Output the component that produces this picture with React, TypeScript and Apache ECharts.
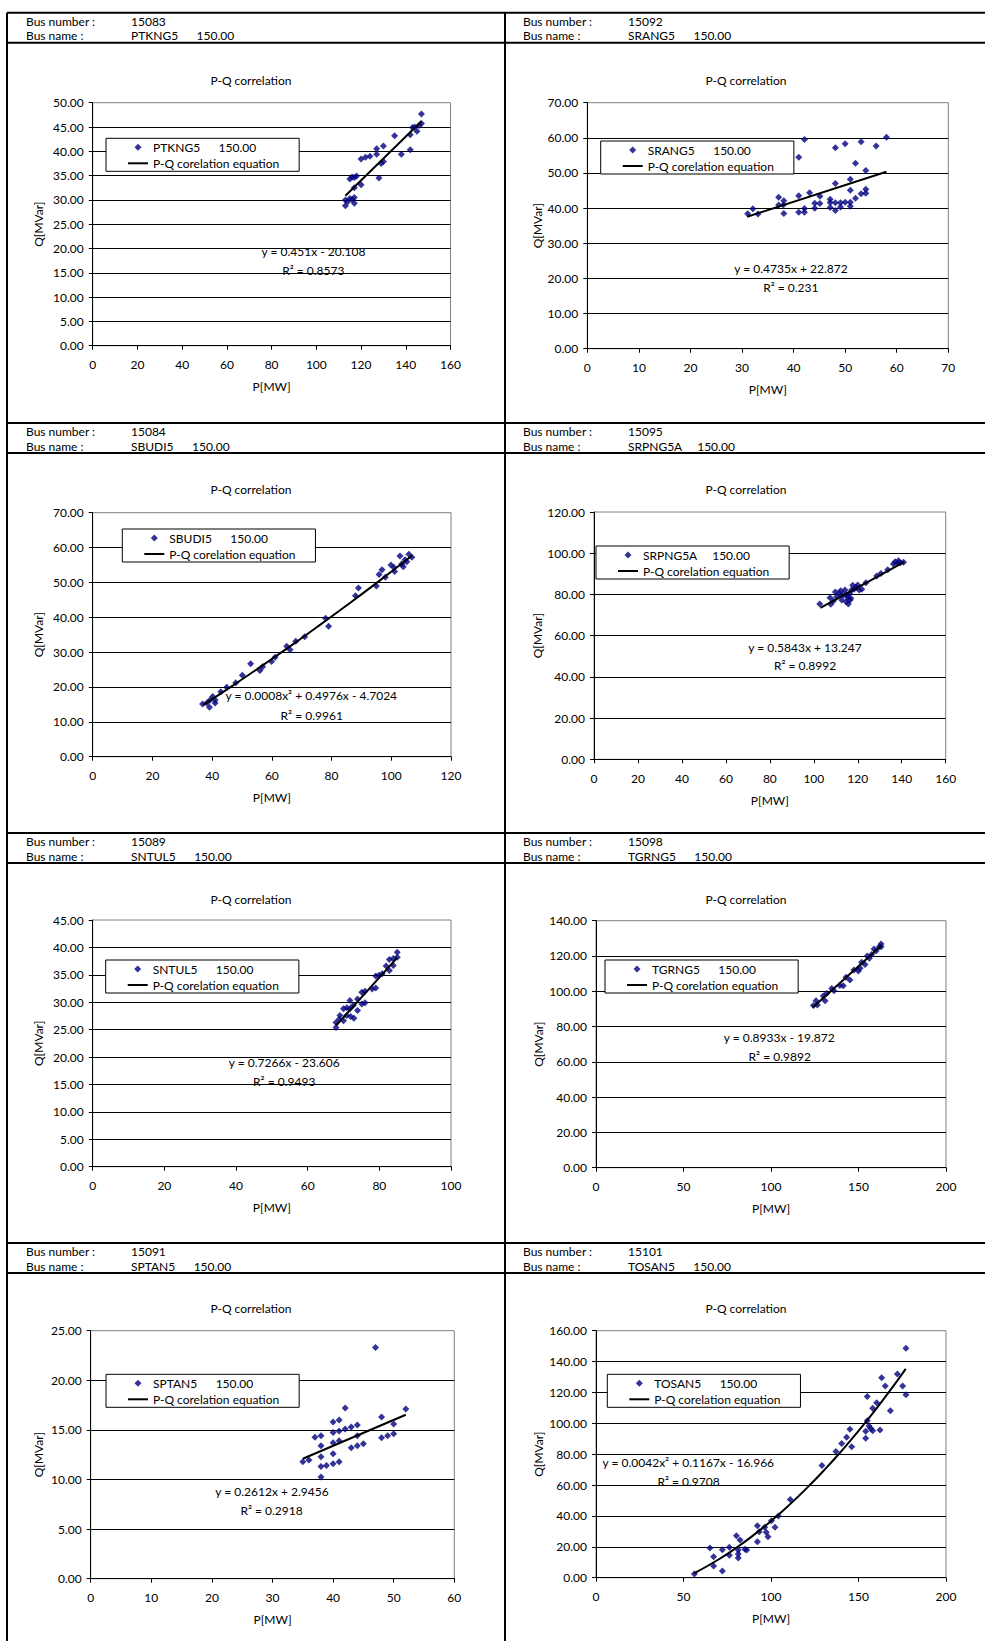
import React, { useEffect, useRef } from 'react';
import * as echarts from 'echarts';

const FONT = 'Lato';

const busNumbers = ['15083', '15092', '15084', '15095', '15089', '15098', '15091', '15101'];
const busNames = ['PTKNG5', 'SRANG5', 'SBUDI5', 'SRPNG5A', 'SNTUL5', 'TGRNG5', 'SPTAN5', 'TOSAN5'];
const busKv = '150.00';
const busNumberLabel = 'Bus number :';
const busNameLabel = 'Bus name :';
const chartTitle = 'P-Q correlation';
const trendName = 'P-Q corelation equation';
const xAxisName = 'P[MW]';
const yAxisName = 'Q[MVar]';

const xMax = [160, 70, 120, 160, 100, 200, 60, 200];
const xInterval = [20, 10, 20, 20, 20, 50, 10, 50];
const yMax = [50, 70, 70, 120, 45, 140, 25, 160];
const yInterval = [5, 10, 10, 20, 5, 20, 5, 20];

const equations = [
  'y = 0.451x - 20.108',
  'y = 0.4735x + 22.872',
  'y = 0.0008x² + 0.4976x - 4.7024',
  'y = 0.5843x + 13.247',
  'y = 0.7266x - 23.606',
  'y = 0.8933x - 19.872',
  'y = 0.2612x + 2.9456',
  'y = 0.0042x² + 0.1167x - 16.966',
];
const r2Labels = [
  'R² = 0.8573', 'R² = 0.231', 'R² = 0.9961', 'R² = 0.8992',
  'R² = 0.9493', 'R² = 0.9892', 'R² = 0.2918', 'R² = 0.9708',
];
const trendSmooth = [false, false, true, false, false, false, false, true];

const ptkng5Points = [
  [113, 28.8], [113, 30.0], [114, 29.6], [115, 30.3], [116, 30.1], [117, 30.5], [117, 29.3], [117, 32.5],
  [115, 34.3], [116, 34.7], [117, 34.6], [118, 34.9], [120, 33.1], [120, 38.4], [122, 38.8], [124, 39.0],
  [127, 39.4], [127, 40.5], [128, 34.5], [129, 37.5], [130, 37.9], [130, 41.1], [135, 43.2], [138, 39.4],
  [142, 40.3], [142, 43.4], [143, 44.9], [144, 45.0], [145, 44.1], [146, 45.3], [147, 45.7], [147, 47.7],
];
const srang5Points = [
  [31.1, 38.4], [32.1, 39.8], [33.1, 38.3], [37.1, 43.1], [37.1, 40.9], [38.1, 42.1], [38, 40.9], [38.1, 38.5],
  [41, 43.5], [41, 54.5], [42.1, 59.5], [42.1, 39.9], [42.1, 38.8], [41, 38.8], [43.1, 44.4], [44.1, 41.4],
  [44.1, 40.0], [45.1, 43.4], [45.1, 41.3], [47.1, 42.5], [47.1, 41.6], [47.1, 40.2], [48.1, 47.0], [48.1, 57.2],
  [48.1, 39.3], [48.1, 41.5], [49.1, 41.5], [49.1, 40.3], [50, 58.3], [50, 41.7], [51, 48.2], [51, 45.1],
  [51, 41.7], [51, 40.5], [52, 52.8], [52, 42.8], [53.1, 58.9], [53.1, 44.1], [54, 50.7], [54, 45.4],
  [54, 44.2], [56, 57.7], [58, 60.2],
];
const sbudi5Points = [
  [36.8, 15.1], [38.2, 15.4], [39.1, 14.2], [39.3, 16.3], [40.2, 17.3], [41, 16.3], [41, 15.4], [42.9, 18.6],
  [44.9, 19.9], [47.9, 21.2], [50.1, 23.4], [52.9, 26.7], [56, 24.7], [56.9, 25.8], [59.9, 27.3], [61.1, 28.5],
  [65, 31.7], [66.1, 30.7], [68, 33.1], [71, 34.4], [78, 39.7], [79, 37.4], [88, 46.2], [89, 48.4],
  [95, 49.0], [95.9, 52.3], [96.9, 53.6], [98, 51.5], [99.9, 55.0], [100.9, 54.3], [101.1, 53.1], [102.9, 57.6],
  [103.5, 55.3], [104, 54.5], [104.6, 56.5], [105.2, 55.9], [105.9, 58.1], [106.9, 57.2],
];
const srpng5aPoints = [
  [102.7, 75.4], [107.4, 78.4], [107.7, 75.2], [108.9, 76.8], [109.8, 81.2], [110.4, 78.9], [111.6, 80.5],
  [112.2, 81.8], [112.7, 77.3], [113.4, 79.8], [114.2, 82.2], [114.7, 76.5], [115, 79.8], [115.3, 78.6],
  [115.7, 75.4], [116.2, 80.5], [116.5, 77.3], [116.8, 78.1], [117.2, 82.2], [117.7, 84.4], [118.3, 82.5],
  [119.2, 83.5], [120, 84.6], [120.6, 82.2], [121.8, 82.5], [123.7, 85.7], [128.6, 88.9], [130.5, 90.2],
  [133.6, 92.0], [136.2, 94.8], [137, 95.9], [138, 95.1], [138.5, 96.4], [139.3, 95.4], [140.8, 95.6],
];
const sntul5Points = [
  [67.9, 25.4], [67.9, 26.3], [68.8, 26.9], [69, 27.6], [70, 28.8], [70, 26.6], [70.9, 29.0], [70.9, 27.6],
  [71.8, 30.3], [71.8, 28.8], [72, 27.4], [72.7, 29.4], [72.9, 27.1], [73.9, 28.5], [73.9, 30.6], [75.1, 29.7],
  [75.1, 31.8], [76, 32.0], [76, 29.9], [78, 32.4], [79, 32.6], [79, 34.8], [79.9, 34.9], [80.8, 35.2],
  [81.9, 36.6], [82.8, 37.8], [82.8, 35.8], [83.9, 38.0], [83.9, 36.7], [85, 39.1], [85, 38.2],
];
const tgrng5Points = [
  [124.2, 92.0], [125.7, 94.6], [126.5, 92.2], [129.9, 97.3], [130.9, 94.6], [131.8, 98.8], [134.7, 101.6],
  [136, 100.3], [139.4, 103.3], [141.3, 103.1], [142.9, 107.9], [145.1, 106.4], [147.4, 112.0], [149.9, 111.5],
  [150.9, 113.0], [151.8, 116.4], [153.7, 115.2], [155, 120.0], [156.2, 118.7], [157.5, 120.9], [158.9, 124.0],
  [160, 122.8], [161.9, 125.3], [162.9, 126.8], [162.9, 125.3],
];
const sptan5Points = [
  [35, 11.8], [36, 11.96], [37, 14.25], [38, 14.4], [38, 13.4], [38, 12.3], [38, 11.3], [38, 10.25],
  [38.9, 11.4], [40, 15.8], [40, 14.75], [40, 13.7], [40, 12.6], [40, 11.6], [41, 16.0], [41, 14.9],
  [41, 13.9], [41, 11.8], [42, 17.2], [42, 15.1], [43, 15.3], [43, 13.2], [44, 15.5], [44, 14.4],
  [44, 13.4], [45, 13.6], [47, 23.3], [48, 16.3], [48, 14.2], [49, 14.4], [50, 15.6], [50, 14.6], [52, 17.1],
];
const tosan5Points = [
  [56.2, 2.4], [65.1, 19.2], [67.2, 13.6], [67.2, 7.6], [72.2, 18.1], [72.2, 4.3], [76.2, 19.7], [76.2, 14.5],
  [80.2, 27.2], [81.3, 17.9], [81.3, 15.3], [81.3, 12.7], [82.3, 24.4], [85.1, 18.4], [86.1, 17.9], [92.2, 33.7],
  [92.2, 23.3], [93.3, 29.8], [96.4, 32.6], [97.3, 29.4], [98.3, 26.6], [100.2, 36.9], [102.3, 32.6], [104.2, 39.9],
  [111, 50.7], [129.1, 72.6], [137.1, 81.8], [140.4, 87.0], [143.2, 90.9], [145.1, 96.1], [146.1, 84.9], [154.1, 90.3],
  [154.1, 94.8], [155, 117.3], [155, 101.7], [156, 98.2], [157, 96.7], [158.1, 95.2], [158.1, 109.7], [160.4, 113.4],
  [162.3, 95.7], [163.2, 129.6], [165.3, 124.2], [168.2, 108.2], [172.2, 131.9], [175.2, 124.2], [177.1, 148.6], [177.1, 118.5],
];

const ptkng5Trend = [[113, 30.85], [147, 46.19]];
const srang5Trend = [[31, 37.55], [58, 50.33]];
const sbudi5Trend = [[37, 14.8], [45, 19.31], [55, 25.09], [65, 31.02], [75, 37.12], [85, 43.37], [95, 49.79], [107, 57.7]];
const srpng5aTrend = [[103, 73.43], [141, 95.63]];
const sntul5Trend = [[68, 25.8], [85, 38.15]];
const tgrng5Trend = [[124, 90.9], [163, 125.74]];
const sptan5Trend = [[35, 12.09], [52, 16.53]];
const tosan5Trend = [
  [56, 2.74], [70, 11.78], [80, 19.25], [90, 27.56], [100, 36.7], [110, 46.69], [120, 57.52],
  [130, 69.19], [140, 81.69], [150, 95.04], [160, 109.23], [170, 124.25], [177, 135.27],
];

const scatterData = [ptkng5Points, srang5Points, sbudi5Points, srpng5aPoints, sntul5Points, tgrng5Points, sptan5Points, tosan5Points];
const trendData = [ptkng5Trend, srang5Trend, sbudi5Trend, srpng5aTrend, sntul5Trend, tgrng5Trend, sptan5Trend, tosan5Trend];

// layout (pixels)
const panelLayout = [
  { gl: 92.7, gt: 102.7, gw: 357.8, gh: 243, title: [251, 81], eq: [313.5, 251.7], r2: [313.3, 270.3], legend: [106, 138.3], yGap: 48 },
  { gl: 587.3, gt: 102.7, gw: 361, gh: 246, title: [746, 81.7], eq: [791, 268.3], r2: [790.8, 287.3], legend: [600.7, 141], yGap: 43 },
  { gl: 92.7, gt: 512.7, gw: 358.3, gh: 244, title: [251, 490], eq: [311.3, 695], r2: [311.7, 715], legend: [122.3, 529], yGap: 48 },
  { gl: 594, gt: 512, gw: 351.7, gh: 247.3, title: [746, 490], eq: [805, 647.3], r2: [805, 665.3], legend: [596, 546], yGap: 50 },
  { gl: 92.7, gt: 920, gw: 358.3, gh: 246.7, title: [251, 900], eq: [284.2, 1062.7], r2: [284.2, 1081.7], legend: [105.7, 960], yGap: 48 },
  { gl: 596, gt: 920.7, gw: 350, gh: 247, title: [746, 900], eq: [779.2, 1037.3], r2: [779.7, 1056], legend: [605, 960], yGap: 52 },
  { gl: 90.7, gt: 1330.7, gw: 363.6, gh: 248, title: [251, 1309.5], eq: [272, 1491.7], r2: [271.5, 1510.7], legend: [106, 1374.3], yGap: 46 },
  { gl: 596, gt: 1330.7, gw: 350, gh: 247, title: [746, 1309.5], eq: [688.3, 1462.7], r2: [688.5, 1481.7], legend: [607.3, 1374.3], yGap: 52 },
];
const rowTops = [12.7, 423, 833, 1243];
const colX = [
  { border: 7, label: 26, value: 131 },
  { border: 505, label: 523, value: 628 },
];
const W = 985;
const H = 1641;

function seriesLabel(i: number) {
  return busNames[i].padEnd(12, ' ') + busKv;
}

function buildOption() {
  const grid: any[] = [];
  const xAxis: any[] = [];
  const yAxis: any[] = [];
  const series: any[] = [];
  const legend: any[] = [];
  const title: any[] = [];
  const graphic: any[] = [];
  const txt = (text: string, x: number, y: number, align = 'center') => ({
    type: 'text',
    x, y,
    silent: true,
    style: {
      text, x: 0, y: 0,
      fill: '#000',
      font: `12px ${FONT}`,
      fontFamily: FONT,
      fontSize: 12,
      align, verticalAlign: 'middle',
      textAlign: align, textVerticalAlign: 'middle',
    },
  });
  const ln = (x1: number, y1: number, x2: number, y2: number) => ({
    type: 'line', silent: true,
    shape: { x1, y1, x2, y2 },
    style: { stroke: '#000', lineWidth: 2 },
  });

  // borders
  for (const c of colX) graphic.push(ln(c.border, rowTops[0], c.border, H));
  rowTops.forEach((t) => {
    graphic.push(ln(colX[0].border, t, W, t));
    graphic.push(ln(colX[0].border, t + 30, W, t + 30));
  });

  for (let i = 0; i < 8; i++) {
    const L = panelLayout[i];
    const row = Math.floor(i / 2);
    const col = i % 2;
    const t = rowTops[row];
    const c = colX[col];
    graphic.push(txt(busNumberLabel, c.label, t + 8.5, 'left'));
    graphic.push(txt(busNumbers[i], c.value, t + 8.5, 'left'));
    graphic.push(txt(busNameLabel, c.label, t + 23, 'left'));
    graphic.push(txt(seriesLabel(i), c.value, t + 23, 'left'));
    graphic.push(txt(equations[i], L.eq[0], L.eq[1]));
    graphic.push(txt(r2Labels[i], L.r2[0], L.r2[1]));

    title.push({
      text: chartTitle,
      left: L.title[0],
      top: L.title[1] - 7,
      textAlign: 'center',
      padding: 0,
      textStyle: { fontFamily: FONT, fontSize: 12, fontWeight: 'normal', color: '#000' },
    });

    grid.push({
      left: L.gl, top: L.gt, width: L.gw, height: L.gh,
      show: true, borderColor: '#808080', borderWidth: 1, backgroundColor: '#fff',
      containLabel: false, outerBoundsMode: 'none',
    });

    xAxis.push({
      type: 'value', gridIndex: i, min: 0, max: xMax[i], interval: xInterval[i],
      name: xAxisName, nameLocation: 'middle', nameGap: 35,
      nameTextStyle: { color: '#000', fontFamily: FONT, fontSize: 12 },
      axisLine: { show: true, onZero: false, lineStyle: { color: '#000', width: 1 } },
      axisTick: { show: true, inside: false, length: 4, lineStyle: { color: '#000' } },
      axisLabel: { color: '#000', fontFamily: FONT, fontSize: 12, margin: 13, formatter: (v: number) => String(v) },
      splitLine: { show: false },
    });
    yAxis.push({
      type: 'value', gridIndex: i, min: 0, max: yMax[i], interval: yInterval[i],
      name: yAxisName, nameLocation: 'middle', nameGap: L.yGap, nameRotate: 90,
      nameTextStyle: { color: '#000', fontFamily: FONT, fontSize: 12 },
      axisLine: { show: true, onZero: false, lineStyle: { color: '#000', width: 1 } },
      axisTick: { show: true, inside: false, length: 4, lineStyle: { color: '#000' } },
      axisLabel: { color: '#000', fontFamily: FONT, fontSize: 12, margin: 9, formatter: (v: number) => v.toFixed(2) },
      splitLine: { show: true, showMaxLine: false, lineStyle: { color: '#000', width: 1 } },
    });

    const sName = seriesLabel(i);
    series.push({
      type: 'scatter', name: sName, xAxisIndex: i, yAxisIndex: i,
      data: scatterData[i], symbol: 'diamond', symbolSize: 7,
      itemStyle: { color: '#000080' }, z: 3,
    });
    series.push({
      type: 'line', name: trendName, xAxisIndex: i, yAxisIndex: i,
      data: trendData[i], symbol: 'none', showSymbol: false, smooth: trendSmooth[i],
      lineStyle: { color: '#000', width: 2 }, itemStyle: { color: '#000' }, z: 4, silent: true,
    });

    legend.push({
      orient: 'vertical',
      left: L.legend[0], top: L.legend[1],
      padding: [3, 20, 2, 22],
      itemGap: 4, itemWidth: 20, itemHeight: 7,
      backgroundColor: '#fff', borderColor: '#000', borderWidth: 1,
      selectedMode: false,
      symbolKeepAspect: true,
      textStyle: { color: '#000', fontFamily: FONT, fontSize: 12 },
      data: [
        { name: sName, icon: 'path://M0,-1L1,0L0,1L-1,0Z', itemStyle: { color: '#000080' } },
        { name: trendName, icon: 'path://M0,0H20V2H0Z', itemStyle: { color: '#000', borderWidth: 0 } },
      ],
    });
  }

  return {
    animation: false,
    backgroundColor: '#fff',
    textStyle: { fontFamily: FONT },
    title, grid, xAxis, yAxis, series, legend, graphic,
  };
}

export default function App() {
  const ref = useRef<HTMLDivElement>(null);
  useEffect(() => {
    document.body.style.margin = '0';
    if (!ref.current) return;
    const chart = echarts.init(ref.current, null, { renderer: 'svg' });
    chart.setOption(buildOption() as any);
    return () => chart.dispose();
  }, []);
  return <div ref={ref} style={{ width: W, height: H }} />;
}
